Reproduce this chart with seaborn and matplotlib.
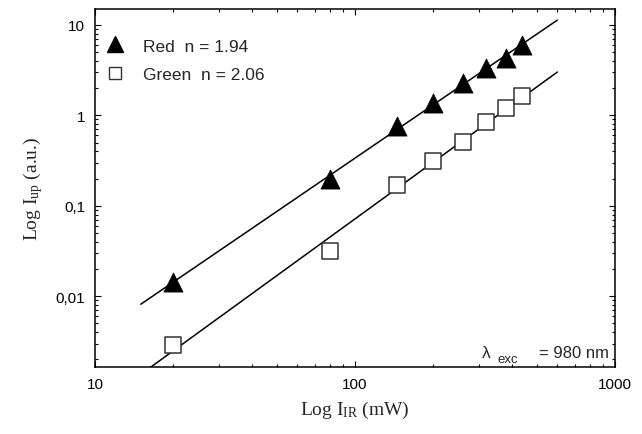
import numpy as np
import pandas as pd
import matplotlib
matplotlib.use("Agg")
import matplotlib.pyplot as plt
import seaborn as sns
from matplotlib.lines import Line2D
from matplotlib.ticker import LogLocator, FixedLocator, FixedFormatter, NullFormatter

# ---- data ----
red_power = [20, 80, 145, 200, 260, 320, 380, 440]
red_intensity = [0.0143, 0.20, 0.77, 1.36, 2.27, 3.33, 4.3, 6.0]
green_power = [20, 80, 145, 200, 260, 320, 380, 440]
green_intensity = [0.0029, 0.0316, 0.171, 0.316, 0.51, 0.84, 1.2, 1.63]
red_label = "Red  n = 1.94"
green_label = "Green  n = 2.06"
fit_range = [15, 600]
x_ticks = [10, 100, 1000]
x_ticklabels = ["10", "100", "1000"]
y_ticks = [0.01, 0.1, 1, 10]
y_ticklabels = ["0,01", "0,1", "1", "10"]

sns.set_theme(style="ticks")
plt.rcParams["font.family"] = ["Liberation Sans", "DejaVu Sans"]
plt.rcParams["mathtext.fontset"] = "custom"
plt.rcParams["mathtext.rm"] = "Liberation Serif"
plt.rcParams["mathtext.it"] = "Liberation Serif:italic"

fig = plt.figure(figsize=(6.42, 4.35), dpi=100)
ax = fig.add_axes([95/642, 1-368/435, (615-95)/642, (368-10)/435])

df = pd.concat([
    pd.DataFrame({"P": red_power, "I": red_intensity, "s": "Red"}),
    pd.DataFrame({"P": green_power, "I": green_intensity, "s": "Green"}),
])

# fitted power-law lines
xf = np.array(fit_range, dtype=float)
for px, iy in [(red_power, red_intensity), (green_power, green_intensity)]:
    n, b = np.polyfit(np.log10(px), np.log10(iy), 1)
    ax.plot(xf, 10**(b + n*np.log10(xf)), color="black", lw=1.1, zorder=1)

sns.scatterplot(data=df[df.s == "Red"], x="P", y="I", ax=ax, marker="^",
                s=190, color="black", edgecolor="black", linewidth=0.5,
                legend=False, zorder=3)
sns.scatterplot(data=df[df.s == "Green"], x="P", y="I", ax=ax, marker="s",
                s=120, facecolor="white", edgecolor="#333333", linewidth=1.1,
                legend=False, zorder=3)

ax.set_xscale("log")
ax.set_yscale("log")
ax.set_xlim(10, 1000)
ax.set_ylim(0.00165, 15)

ax.xaxis.set_major_locator(FixedLocator(x_ticks))
ax.xaxis.set_major_formatter(FixedFormatter(x_ticklabels))
ax.yaxis.set_major_locator(FixedLocator(y_ticks))
ax.yaxis.set_major_formatter(FixedFormatter(y_ticklabels))
ax.xaxis.set_minor_locator(LogLocator(base=10, subs=np.arange(2, 10), numticks=20))
ax.yaxis.set_minor_locator(LogLocator(base=10, subs=np.arange(2, 10), numticks=20))
ax.xaxis.set_minor_formatter(NullFormatter())
ax.yaxis.set_minor_formatter(NullFormatter())

ax.tick_params(which="both", direction="in", top=True, right=True,
               color="black", width=0.8)
ax.tick_params(which="major", length=4, labelsize=11, pad=7, labelcolor="black")
ax.tick_params(which="minor", length=2.5)
for sp in ax.spines.values():
    sp.set_linewidth(1.1)
    sp.set_color("black")
ax.set_facecolor("white")

ax.set_xlabel(r"Log I$_{\mathrm{IR}}$ (mW)", family="Liberation Serif", fontsize=14, labelpad=6)
ax.set_ylabel(r"Log I$_{\mathrm{up}}$ (a.u.)", family="Liberation Serif", fontsize=14, labelpad=8)

handles = [
    Line2D([], [], marker="^", ls="", color="black", markersize=11),
    Line2D([], [], marker="s", ls="", markerfacecolor="white",
           markeredgecolor="#333333", markersize=9, markeredgewidth=1.0),
]
ax.legend(handles, [red_label, green_label], loc="upper left", frameon=False,
          fontsize=12.5, handlelength=1.2, handletextpad=1.0, borderaxespad=0,
          borderpad=0, labelspacing=0.75, bbox_to_anchor=(0.0185, 0.918))

ax.text(0.744, 0.027, "λ", transform=ax.transAxes, fontsize=12.5, ha="left", va="baseline")
ax.text(0.774, 0.014, "exc", transform=ax.transAxes, fontsize=9.5, ha="left", va="baseline")
ax.text(0.853, 0.027, "= 980 nm", transform=ax.transAxes, fontsize=12, ha="left", va="baseline")

fig.savefig("out.png", dpi=100, facecolor="white")
